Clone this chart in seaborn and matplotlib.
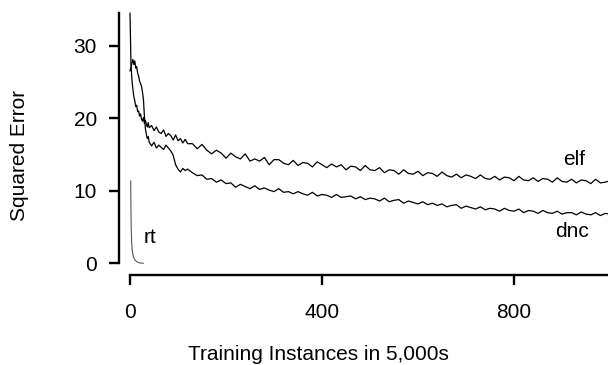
import numpy as np
import matplotlib
matplotlib.use("Agg")
import matplotlib.pyplot as plt
import seaborn as sns

# ---- data ----
# shared sampling grid (training instances, in 5,000s)
steps = np.concatenate([np.arange(0, 41, 2), np.arange(45, 121, 5), np.arange(130, 1001, 10)])

elf = [34.5, 27.5, 25.3, 24.0, 23.0, 22.4, 21.6, 21.8, 20.9, 21.0, 20.3,
       20.6, 19.9, 19.6, 20.1, 19.3, 19.7, 19.2, 18.8, 19.4, 18.7,
       19.0, 18.3, 18.8, 18.1, 17.9, 18.4, 17.5, 17.9, 17.6, 17.0,
       17.7, 16.9, 17.2, 16.6, 17.1, 16.5,
       16.5, 15.8, 16.4, 15.6, 15.1, 15.6, 15.2, 14.5,
       15.2, 14.7, 14.4, 15.1, 14.1, 14.4, 14.1, 14.6, 13.6, 14.3,
       14.3, 13.8, 13.6, 14.2, 13.5, 13.9, 13.8, 13.3, 14.0, 13.6,
       13.2, 13.7, 13.3, 13.6, 12.9, 13.4, 13.3, 12.8, 13.5, 12.9,
       12.8, 13.2, 12.5, 12.9, 12.8, 12.3, 12.9, 12.4, 12.3, 12.7,
       12.1, 12.5, 12.4, 12.0, 12.6, 12.1, 11.9, 12.3, 11.8, 12.2,
       12.0, 11.7, 12.2, 11.7, 11.6, 12.0, 11.5, 11.9, 11.8, 11.4,
       12.0, 11.5, 11.4, 11.8, 11.3, 11.7, 11.6, 11.2, 11.8, 11.3,
       11.2, 11.6, 11.1, 11.5, 11.4, 11.0, 11.6, 11.1, 11.2, 11.4]

dnc = [26.5, 27.0, 27.6, 28.1, 27.4, 27.9, 26.9, 27.1, 26.2, 25.8, 25.1,
       24.8, 24.4, 23.6, 22.6, 20.3, 18.6, 17.8, 17.2, 17.5, 16.7,
       16.2, 16.7, 15.9, 16.3, 16.0, 15.7, 16.3, 15.9, 15.5, 14.9,
       13.6, 13.0, 12.6, 13.1, 12.8, 13.0,
       12.5, 12.1, 12.2, 11.6, 11.7, 11.2, 11.5, 11.0,
       11.1, 10.5, 10.9, 10.6, 10.3, 10.7, 10.2, 10.4, 10.1, 9.9,
       10.3, 9.8, 9.9, 9.6, 9.9, 9.6, 9.4, 9.8, 9.3, 9.5,
       9.4, 9.1, 9.5, 9.1, 9.2, 9.3, 8.9, 9.2, 8.8, 9.0,
       8.9, 8.6, 9.0, 8.5, 8.7, 8.8, 8.3, 8.6, 8.4, 8.2,
       8.5, 8.1, 8.3, 8.0, 8.2, 7.8, 8.0, 8.1, 7.6, 7.9,
       7.7, 7.5, 7.8, 7.4, 7.6, 7.5, 7.2, 7.6, 7.3, 7.2,
       7.5, 7.0, 7.3, 7.2, 6.9, 7.3, 7.0, 6.9, 7.2, 6.8,
       7.0, 7.0, 6.7, 7.1, 6.8, 6.7, 7.0, 6.6, 6.9, 6.8]

rt_steps = [1.5, 2, 2.5, 3.5, 5, 7, 10, 14, 20, 28]
rt = [11.4, 7.4, 5.0, 2.8, 1.6, 0.95, 0.5, 0.25, 0.08, 0.03]

y_ticks = [0, 10, 20, 30]
x_ticks = [0, 400, 800]

sns.set_style("ticks")
plt.rcParams.update({
    "font.family": ["Liberation Sans", "DejaVu Sans"],
    "text.color": "black",
    "axes.labelcolor": "black",
    "axes.edgecolor": "black",
    "xtick.color": "black",
    "ytick.color": "black",
})

fig = plt.figure(figsize=(6.08, 3.65), dpi=100)
ax = fig.add_axes([0.1962, 0.2479, 0.8038, 0.7384])

sns.lineplot(x=steps, y=elf, ax=ax, color="black", lw=0.9, estimator=None)
sns.lineplot(x=steps, y=dnc, ax=ax, color="black", lw=0.9, estimator=None)
sns.lineplot(x=rt_steps, y=rt, ax=ax, color="#555555", lw=0.8, estimator=None)

ax.text(902, 13.6, "elf", fontsize=15, ha="left", va="baseline")
ax.text(885, 3.7, "dnc", fontsize=15, ha="left", va="baseline")
ax.text(27.7, 2.8, "rt", fontsize=15, ha="left", va="baseline")

ax.set_xlim(-22.3, 995.8)
ax.set_ylim(-1.52, 35.6)
ax.set_xticks(x_ticks)
ax.set_yticks(y_ticks)
ax.tick_params(axis="both", labelsize=15, length=7.2, width=1.7, direction="out")
ax.tick_params(axis="y", pad=9)
ax.tick_params(axis="x", pad=13)

sns.despine(ax=ax)
for side in ["left", "bottom"]:
    ax.spines[side].set_linewidth(1.7)
ax.spines["left"].set_bounds(0, 34.5)
ax.spines["bottom"].set_bounds(0, 1000)

fig.text(318 / 608, 1 - 355 / 365, "Training Instances in 5,000s",
         fontsize=15, ha="center", va="center")
fig.text(20 / 608, 1 - 155 / 365, "Squared Error",
         fontsize=15, ha="center", va="center", rotation=90)

fig.savefig("out.png", dpi=100)
